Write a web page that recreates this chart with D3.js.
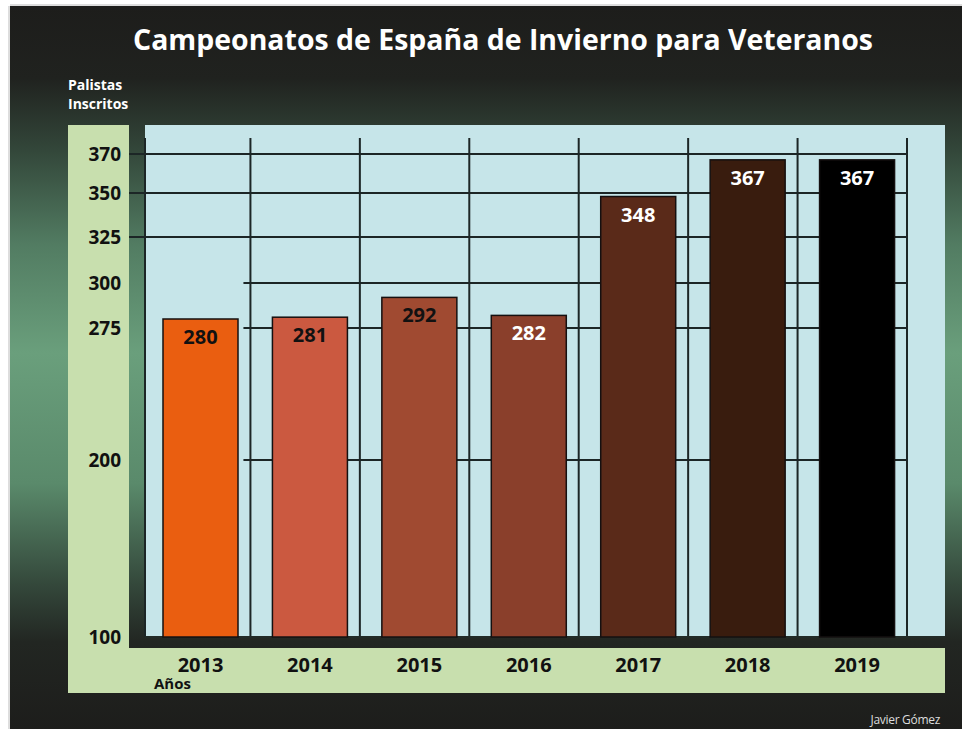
<!DOCTYPE html>
<html><head><meta charset="utf-8">
<script src="https://cdn.jsdelivr.net/npm/d3@7"></script>
<style>html,body{margin:0;padding:0;background:#fff;}svg{display:block;}</style>
</head><body>
<script>
const years = ["2013","2014","2015","2016","2017","2018","2019"];
const values = [280, 281, 292, 282, 348, 367, 367];
const barColors = ["#ea5e10","#cb5940","#a04a31","#8a3f2b","#5a2a19","#391c0e","#000000"];
const labelColors = ["#111","#111","#111","#fff","#fff","#fff","#fff"];
const yTicks = [100, 200, 275, 300, 325, 350, 370];
const longGridTicks = [325, 350, 370];
const shortGridTicks = [200, 275, 300];
const title = "Campeonatos de España de Invierno para Veteranos";
const yTitle = ["Palistas", "Inscritos"];
const xTitle = "Años";
const credit = "Javier Gómez";

const W = 968, H = 729;
const svg = d3.select("body").append("svg").attr("width", W).attr("height", H);
const font = "'Open Sans', 'DejaVu Sans', sans-serif";

const defs = svg.append("defs");
const g = defs.append("linearGradient").attr("id","bg").attr("x1",0).attr("y1",0).attr("x2",0).attr("y2",1);
[[0,"#1d1d1b"],[0.1,"#20221f"],[0.2,"#33473a"],[0.33,"#527c62"],[0.48,"#6a9f7c"],[0.66,"#5a8a6b"],[0.8,"#34483b"],[0.88,"#222622"],[1,"#1d1d1b"]]
  .forEach(([o,c]) => g.append("stop").attr("offset",o).attr("stop-color",c));

// outer frame
svg.append("rect").attr("x",10).attr("y",6).attr("width",952).attr("height",H-6).attr("fill","url(#bg)");
svg.append("line").attr("x1",9).attr("x2",9).attr("y1",6).attr("y2",H).attr("stroke","#bbb").attr("stroke-width",1);
svg.append("line").attr("x1",10).attr("x2",962).attr("y1",5).attr("y2",5).attr("stroke","#bbb").attr("stroke-width",1);

// panels
const panelGreen = "#c8dfae", plotBlue = "#c6e5e9";
svg.append("rect").attr("x",68).attr("y",125).attr("width",61).attr("height",568).attr("fill",panelGreen);
svg.append("rect").attr("x",68).attr("y",648).attr("width",877).attr("height",45).attr("fill",panelGreen);
svg.append("rect").attr("x",145).attr("y",125).attr("width",800).attr("height",512).attr("fill",plotBlue);

// scales (the reference axis is drawn with slightly uneven tick spacing)
const y = d3.scaleLinear().domain(yTicks).range([637, 460, 328, 283, 237, 193, 154]);
const xCell = d3.scaleBand().domain(years).range([141, 907]);
const barInset = 22, barW = 75;
const bx = d => xCell(d) + barInset;

const gridColor = "#1c2626";
// horizontal grid
svg.append("g").selectAll("line").data(longGridTicks).join("line")
  .attr("x1",129).attr("x2",xCell.range()[1]+1)
  .attr("y1",d=>y(d)).attr("y2",d=>y(d)).attr("stroke",gridColor).attr("stroke-width",2);
svg.append("g").selectAll("line").data(shortGridTicks).join("line")
  .attr("x1",xCell(years[1])-7).attr("x2",xCell.range()[1]+1)
  .attr("y1",d=>y(d)).attr("y2",d=>y(d)).attr("stroke",gridColor).attr("stroke-width",2);
// vertical grid
svg.append("g").selectAll("line").data(years).join("line")
  .attr("x1",d=>xCell(d)+xCell.step()).attr("x2",d=>xCell(d)+xCell.step())
  .attr("y1",138).attr("y2",y(100)).attr("stroke",gridColor).attr("stroke-width",2);
svg.append("line").attr("x1",145).attr("x2",145).attr("y1",138).attr("y2",y(100))
  .attr("stroke",gridColor).attr("stroke-width",2);
svg.append("line").attr("x1",145).attr("x2",945).attr("y1",y(100)).attr("y2",y(100))
  .attr("stroke","#222b27").attr("stroke-width",2);

// bars
const data = years.map((yr,i)=>({yr, v:values[i], c:barColors[i], lc:labelColors[i]}));
svg.append("g").selectAll("rect").data(data).join("rect")
  .attr("x",d=>bx(d.yr)).attr("width",barW)
  .attr("y",d=>y(d.v)).attr("height",d=>y(100)-y(d.v))
  .attr("fill",d=>d.c).attr("stroke","#151010").attr("stroke-width",1.5);
svg.append("g").selectAll("text").data(data).join("text")
  .attr("x",d=>bx(d.yr)+barW/2).attr("y",d=>y(d.v)+25)
  .attr("text-anchor","middle").attr("font-family",font).attr("font-weight",700)
  .attr("font-size",20).attr("fill",d=>d.lc).text(d=>d.v);

// y tick labels
svg.append("g").selectAll("text").data(yTicks).join("text")
  .attr("x",121).attr("y",d=>y(d)+7).attr("text-anchor","end")
  .attr("font-family",font).attr("font-weight",700).attr("font-size",19)
  .attr("fill","#111").text(d=>d);

// x labels
svg.append("g").selectAll("text").data(years).join("text")
  .attr("x",d=>bx(d)+barW/2).attr("y",672).attr("text-anchor","middle")
  .attr("font-family",font).attr("font-weight",700).attr("font-size",20)
  .attr("fill","#111").text(d=>d);
svg.append("text").attr("x",154).attr("y",689).attr("font-family",font).attr("font-weight",700)
  .attr("font-size",15).attr("fill","#111").text(xTitle);

// titles
svg.append("text").attr("x",503).attr("y",50).attr("text-anchor","middle")
  .attr("font-family",font).attr("font-weight",700).attr("font-size",29)
  .attr("textLength",740).attr("lengthAdjust","spacingAndGlyphs")
  .attr("fill","#fff").text(title);
svg.append("g").selectAll("text").data(yTitle).join("text")
  .attr("x",68).attr("y",(d,i)=>90+i*19)
  .attr("font-family",font).attr("font-weight",700).attr("font-size",14)
  .attr("fill","#fff").text(d=>d);
svg.append("text").attr("x",940).attr("y",724).attr("text-anchor","end")
  .attr("font-family",font).attr("font-size",12).attr("letter-spacing",-0.3)
  .attr("fill","#ddd").text(credit);
</script>
</body></html>
